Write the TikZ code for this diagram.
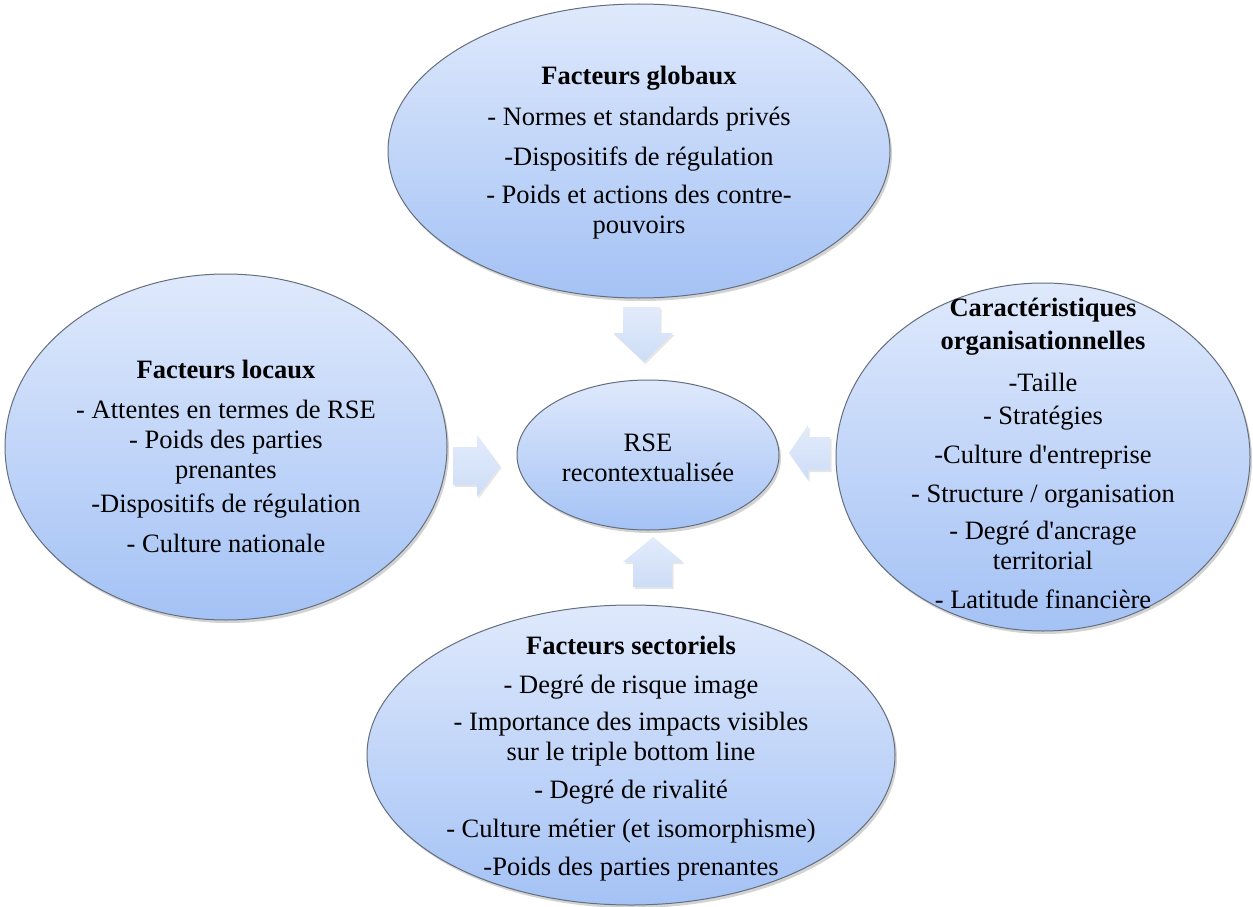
\documentclass[tikz,border=0pt]{standalone}
\usepackage{fontspec}
\setmainfont{Liberation Serif}
\usetikzlibrary{shapes.geometric,shadows}
\definecolor{bubbletop}{RGB}{223,233,252}
\definecolor{bubblebot}{RGB}{164,194,245}
\definecolor{bubbleline}{RGB}{100,110,125}
\definecolor{arrowtop}{RGB}{226,235,251}
\definecolor{arrowbot}{RGB}{205,221,247}
\begin{document}
\begin{tikzpicture}[x=1pt,y=-1pt,
    bubble/.style={ellipse,draw=bubbleline,line width=1pt,top color=bubbletop,
      bottom color=bubblebot,inner sep=0pt,
      drop shadow={shadow xshift=2pt,shadow yshift=-3pt,opacity=0.35}},
    bubbletext/.style={align=center,inner sep=0pt,font=\fontsize{26.5}{30}\selectfont},
    blockarrow/.style={top color=arrowtop,bottom color=arrowbot,
      drop shadow={shadow xshift=1.5pt,shadow yshift=-2pt,opacity=0.2}}]
    \useasboundingbox (0,0) rectangle (1253,907);
    % top ellipse
    \node [bubble,minimum width=502pt,minimum height=294pt] (globE) at (639,151) {};
    \node [bubbletext] (globT) at (639,152.5)
     {\textbf{Facteurs globaux}\\[11pt]
      - Normes et standards privés\\[10pt]
      -Dispositifs de régulation\\[8pt]
      - Poids et actions des contre-\\
      pouvoirs};
    % left ellipse
    \node [bubble,minimum width=442pt,minimum height=346pt] (locE) at (226,447) {};
    \node [bubbletext] (locT) at (226,456)
     {\textbf{Facteurs locaux}\\[10pt]
      - Attentes en termes de RSE\\
      - Poids des parties\\
      prenantes\\[4pt]
      -Dispositifs de régulation\\[10pt]
      - Culture nationale};
    % right ellipse
    \node [bubble,minimum width=414pt,minimum height=348pt] (orgE) at (1043,457) {};
    \node [bubbletext] (orgT) at (1043,453)
     {\textbf{Caractéristiques}\\[3pt]
      \textbf{organisationnelles}\\[12pt]
      -Taille\\[3pt]
      - Stratégies\\[9pt]
      -Culture d\textquotesingle entreprise\\[9pt]
      - Structure / organisation\\[7pt]
      - Degré d\textquotesingle ancrage\\
      territorial\\[9pt]
      - Latitude financière};
    % bottom ellipse
    \node [bubble,minimum width=528pt,minimum height=300pt] (secE) at (631,755) {};
    \node [bubbletext] (secT) at (631,758.5)
     {\textbf{Facteurs sectoriels}\\[9pt]
      - Degré de risque image\\[7pt]
      - Importance des impacts visibles\\
      sur le triple bottom line\\[8pt]
      - Degré de rivalité\\[9pt]
      - Culture métier (et isomorphisme)\\[8pt]
      -Poids des parties prenantes};
    % centre ellipse
    \node [bubble,minimum width=262pt,minimum height=150pt] (rse) at (648,455) {};
    \node [bubbletext] (rseT) at (648,458) {RSE\\recontextualisée};
    % arrow from top
    \path [blockarrow]
     (623,307) -- (660,307) -- (660,333) -- (673,333) -- (644,362)
     -- (613,333) -- (623,333) -- cycle;
    % arrow from bottom
    \path [blockarrow]
     (633,587) -- (672,587) -- (672,562) -- (683,562) -- (653,537)
     -- (623,562) -- (633,562) -- cycle;
    % arrow from left
    \path [blockarrow]
     (453,447) -- (477,447) -- (477,435) -- (500,466) -- (477,497)
     -- (477,485) -- (453,485) -- cycle;
    % arrow from right
    \path [blockarrow]
     (830,437) -- (808,437) -- (808,425) -- (789,453) -- (808,480)
     -- (808,470) -- (830,470) -- cycle;
\end{tikzpicture}
\end{document}
